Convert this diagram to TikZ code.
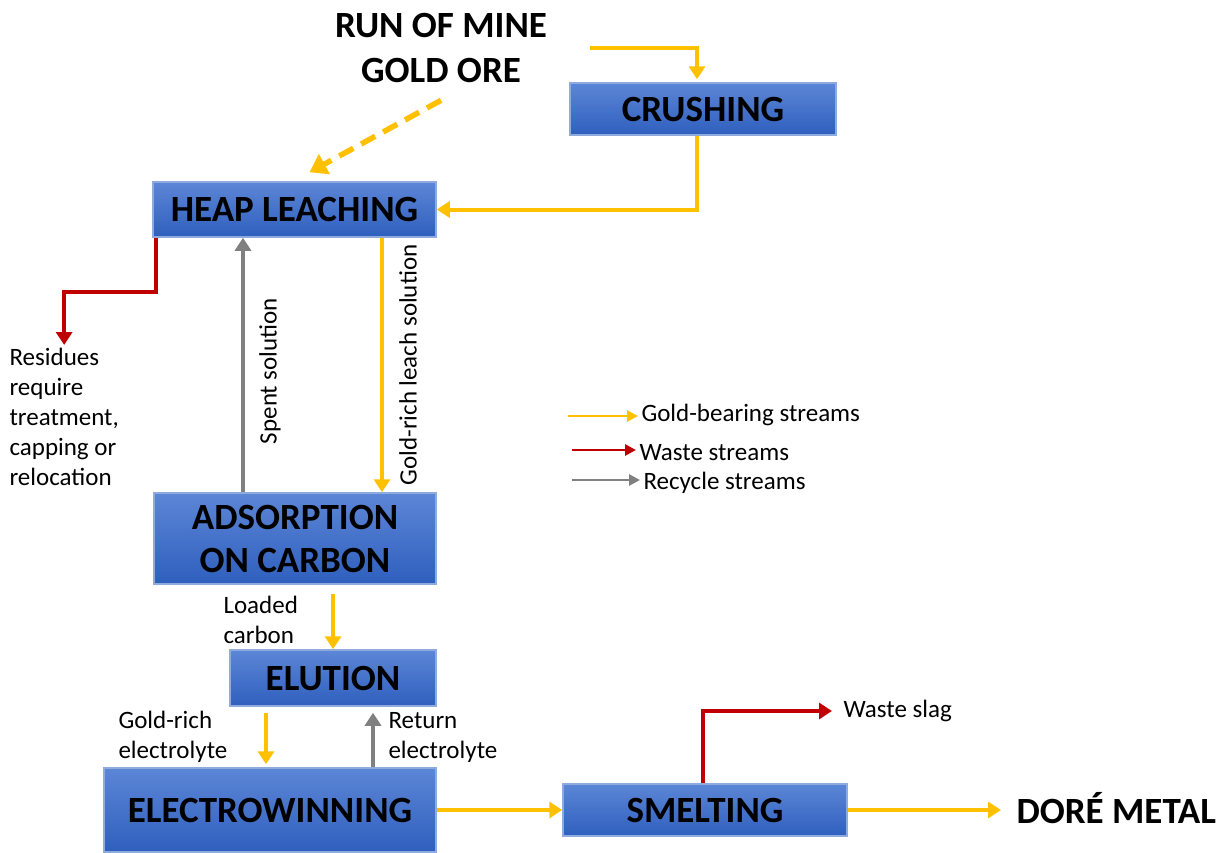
\documentclass[tikz,border=0pt]{standalone}
\usepackage{fontspec}
\setmainfont{Carlito}
\usetikzlibrary{arrows.meta}
\definecolor{goldc}{RGB}{255,192,0}
\definecolor{wastec}{RGB}{192,0,0}
\definecolor{recyclec}{RGB}{128,128,128}
\definecolor{boxtop}{RGB}{92,134,214}
\definecolor{boxbot}{RGB}{47,95,190}
\definecolor{boxedge}{RGB}{143,170,220}

\begin{document}
\begin{tikzpicture}[x=1pt,y=-1pt,
  stage/.style={draw=boxedge,line width=1.5pt,top color=boxtop,bottom color=boxbot,
    inner sep=0pt,align=center,font=\bfseries\fontsize{37}{43}\selectfont},
  bigtext/.style={align=center,font=\bfseries\fontsize{37}{45}\selectfont},
  smalltext/.style={align=left,font=\fontsize{25}{30}\selectfont},
  flow/.style={line width=4pt,-{Triangle[length=13pt,width=16pt]}},
  goldflow/.style={flow,draw=goldc},
  wasteflow/.style={flow,draw=wastec},
  recycleflow/.style={flow,draw=recyclec},
  legflow/.style={line width=2.8pt,-{Triangle[length=11pt,width=11pt]}}]
\useasboundingbox (0,0) rectangle (1226,852);

% process stages
\node[stage,minimum width=266pt,minimum height=52pt] (crush) at (703,109) {CRUSHING};
\node[stage,minimum width=283pt,minimum height=55pt] (heap) at (294.5,209.5) {HEAP LEACHING};
\node[stage,minimum width=282pt,minimum height=91pt] (ads) at (295,538.5) {ADSORPTION\\ON CARBON};
\node[stage,minimum width=206pt,minimum height=56pt] (elu) at (333,678) {ELUTION};
\node[stage,minimum width=332pt,minimum height=84pt] (elec) at (270,810) {ELECTROWINNING};
\node[stage,minimum width=284pt,minimum height=52pt] (smelt) at (705,810) {SMELTING};

\node[bigtext] (rom) at (441,48) {RUN OF MINE\\GOLD ORE};
\node[bigtext,anchor=west] (dore) at (1013,808) {DORÉ METAL};

% labels
\node[smalltext,anchor=north west] (res) at (6,345) {Residues\\require\\treatment,\\capping or\\relocation};
\node[smalltext,rotate=90] (spent) at (270,371) {Spent solution};
\node[smalltext,rotate=90] (leach) at (408,365) {Gold-rich leach solution};
\node[smalltext,anchor=west] (loaded) at (220,620) {Loaded\\carbon};
\node[smalltext,anchor=west] (richel) at (115,737) {Gold-rich\\electrolyte};
\node[smalltext,anchor=west] (retel) at (385,737) {Return\\electrolyte};
\node[smalltext,anchor=west] (slag) at (840,711) {Waste slag};

% legend
\coordinate (lg1) at (568,416);
\coordinate (lg2) at (572,450);
\coordinate (lg3) at (572,480);
\node[smalltext,anchor=west] (lt1) at (638,415) {Gold-bearing streams};
\node[smalltext,anchor=west] (lt2) at (636,453) {Waste streams};
\node[smalltext,anchor=west] (lt3) at (640,483) {Recycle streams};
\draw[legflow,draw=goldc] (lg1) -- (lg1 -| lt1.west);
\draw[legflow,draw=wastec] (lg2) -- (lg2 -| lt2.west);
\draw[legflow,draw=recyclec] (lg3) -- (lg3 -| lt3.west);

% streams
\draw[goldflow] ([xshift=40pt]rom.east) -| ([xshift=-6pt,yshift=3pt]crush.north);
\draw[goldflow,line width=5.5pt,dash pattern=on 16pt off 9pt,-{Triangle[length=17pt,width=22pt]}]
  ([yshift=-14pt]rom.south) -- ([xshift=15pt,yshift=9pt]heap.north);
\draw[goldflow] ([xshift=-6pt]crush.south) |- (heap.east);
\draw[wasteflow] ([xshift=4pt]heap.south west) -- ++(0,54) -| (res.north);
\draw[recycleflow] ([xshift=-52pt]ads.north) -- ([xshift=-51.5pt]heap.south);
\draw[goldflow] ([xshift=87.5pt]heap.south) -- ([xshift=87pt]ads.north);
\draw[goldflow,shorten <=9pt] (ads.south -| elu.north) -- (elu.north);
\draw[goldflow,shorten <=6pt,shorten >=3pt] ([xshift=-67pt]elu.south) -- ([xshift=-4pt]elec.north);
\draw[recycleflow,shorten >=6pt] ([xshift=103pt]elec.north) -- ([xshift=40pt]elu.south);
\draw[goldflow] (elec.east) -- (smelt.west);
\draw[goldflow,shorten >=12pt] (smelt.east) -- (smelt.east -| dore.west);
\draw[wasteflow,shorten >=8pt] ([xshift=-2pt]smelt.north) |- (slag.west);
\end{tikzpicture}
\end{document}
